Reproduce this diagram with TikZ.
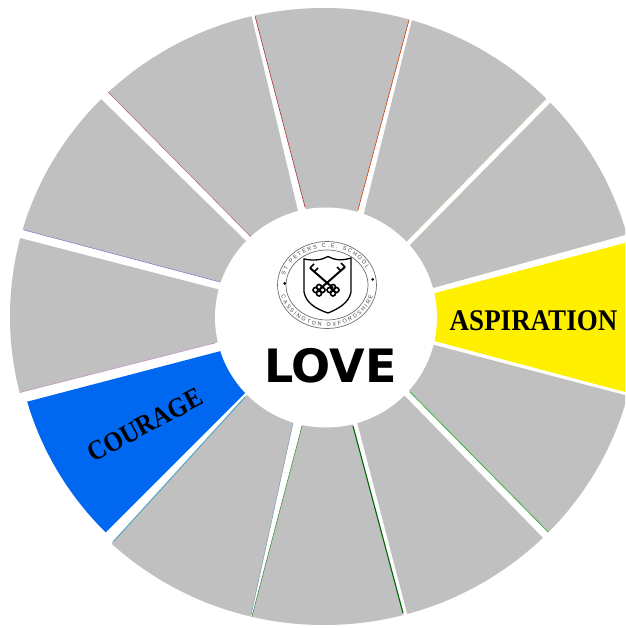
\documentclass[tikz,border=0pt]{standalone}
\usepackage{fontspec}
\setmainfont{Liberation Serif}
\newfontfamily\virtuefont[FakeStretch=0.9]{Liberation Serif}
\newfontfamily\lovefont{DejaVu Sans}
\newfontfamily\sealfont{Liberation Sans}
\usepackage{xcolor}
\usetikzlibrary{calc, decorations.text}
\definecolor{WheelGrey}{HTML}{C0C0C0}
\definecolor{WheelBlue}{HTML}{0068F0}
\definecolor{WheelYellow}{HTML}{FFF000}
\definecolor{SealGrey}{HTML}{707070}
\tikzset{
    % Sectors of the wheel
    sector/.style={fill=WheelGrey, draw=none},
    % Thin coloured line on a sector edge
    edgeline/.style={line width=0.6pt},
    % Word on a coloured sector
    virtue/.style={font=\virtuefont\fontsize{30}{30}\selectfont\bfseries, text=black, inner sep=0pt},
    % Rings of the seal
    sealring/.style={draw=SealGrey, line width=0.7pt},
    % Lettering round the seal
    sealtext/.style={postaction={decorate, decoration={text along path, text align={fit to path}, text={|\sealfont\fontsize{5.5}{5.5}\selectfont\color{SealGrey!60!black}|#1}}}}
}
% #1 fill, then inner and outer end of the first edge, then of the second edge
\newcommand{\wheelsector}[5]{
    \fill [sector, fill=#1] ($(#2)!-0.1!(#3)$) -- ($(#2)!1.3!(#3)$) -- ($(#4)!1.3!(#5)$) -- ($(#4)!-0.1!(#5)$) -- cycle;
}
\begin{document}
\begin{tikzpicture}[x=1pt, y=-1pt]
    \useasboundingbox (0,0) rectangle (625,628);
    \begin{scope}
        \clip (0,0) rectangle (625,628);
        \clip (324,316.5) ellipse [x radius=314, y radius=308.5];
        % Grey sectors, clockwise from the yellow one
        \wheelsector{WheelGrey}{410,245}{551,102}{433,288}{640,231}
        \wheelsector{WheelGrey}{442,347}{640,399}{410,392}{553,537}
        \wheelsector{WheelGrey}{402,393}{545,540}{356,418}{408,617}
        \wheelsector{WheelGrey}{353,426}{403,613}{302,426}{251,620}
        \wheelsector{WheelGrey}{293,423}{251,615}{245,397}{113,542}
        \wheelsector{WheelGrey}{215,343}{18,393}{217,289}{20,238}
        \wheelsector{WheelGrey}{220,282}{24,230}{243,238}{100,98}
        \wheelsector{WheelGrey}{251,237}{108,92}{298,211}{251,14}
        \wheelsector{WheelGrey}{305,207}{255,16}{358,210}{409,20}
        \wheelsector{WheelGrey}{364,213}{412,20}{407,241}{546,99}
        % Yellow sector
        \wheelsector{WheelYellow}{439,292}{640,239}{438,342}{640,396}
        % Edge lines
        \draw [edgeline, color=red!60!black!80] (305,207) -- (255,16);
        \draw [edgeline, color=orange!60!red!80!black] (358,210) -- (409,20);
        \draw [edgeline, color=brown!45, line width=0.4pt] (407,241) -- (546,99);
        \draw [edgeline, color=green!60!black!75, line width=0.8pt] (410,392) -- (553,537);
        \draw [edgeline, color=green!40!black, line width=1.1pt] (353,426) -- (403,613);
        \draw [edgeline, color=green!40!black!80, line width=0.5pt] (302,426) -- (251,620);
        \draw [edgeline, color=cyan!50!black!70, line width=0.5pt] (293,423) -- (251,615);
        \draw [edgeline, color=cyan!70!black!80, line width=1pt] (245,397) -- (113,542);
        \draw [edgeline, color=violet!50, line width=0.4pt] (215,343) -- (18,393);
        \draw [edgeline, color=blue!60!black!60, line width=0.4pt] (220,282) -- (24,230);
        \draw [edgeline, color=purple!80!blue!70, line width=0.4pt] (251,237) -- (108,92);
    \end{scope}
    % Blue sector stops a little short of the others
    \begin{scope}
        \clip (324,316.5) ellipse [x radius=309, y radius=305];
        \wheelsector{WheelBlue}{217,352}{26,402}{243,395}{105,533}
    \end{scope}
    % Centre of the wheel
    \fill [white] (326,317.5) ellipse [x radius=111, y radius=110];
    \node (aspiration) [virtue] at (533.5,321) {ASPIRATION};
    \node (courage) [virtue, font=\virtuefont\fontsize{27.5}{27.5}\selectfont\bfseries, rotate=28] at (145,425) {COURAGE};
    \node (love) [font=\lovefont\fontsize{46}{46}\selectfont\bfseries, inner sep=0pt] at (330.5,366) {LOVE};
    % Seal
    \draw [sealring] (327,285) ellipse [x radius=49.5, y radius=43.5];
    \draw [sealring] (327,285) ellipse [x radius=41, y radius=35];
    \path [sealtext={ST PETERS C.E. SCHOOL}]
        (327,285) ++(195:43.5 and 37.5) arc [start angle=195, end angle=335, x radius=43.5, y radius=37.5];
    \path [sealtext={CASSINGTON OXFORDSHIRE}]
        (327,285) ++(165:47.5 and 41.5) arc [start angle=165, end angle=15, x radius=47.5, y radius=41.5];
    \fill [black] (284.7,283.3) circle [radius=1.5];
    \fill [black] (372.7,279.3) circle [radius=1.5];
    % Shield
    \draw [line width=1.3pt, fill=white] (304,259) .. controls (314,261) and (322,260) .. (328,256.5) .. controls (334,260) and (342,261) .. (351,258) -- (351,292) .. controls (349,303) and (338,309) .. (328,313) .. controls (316,309) and (306,303) .. (304,292) -- cycle;
    % Keys
    \draw [line width=2pt] (310,268) -- (333,288);
    \draw [line width=2pt] (345,267) -- (321,288);
    \draw [line width=1.6pt] (310,268) -- (314,264) (314,272) -- (318,268);
    \draw [line width=1.6pt] (345,267) -- (341,263) (341,271) -- (337,267);
    \foreach \x/\y in {319/287, 319/293.5, 315.5/290, 322.5/290, 333/287, 333/293.5, 329.5/290, 336.5/290} {
        \draw [line width=1.6pt] (\x,\y) circle [radius=2.5];
    }
\end{tikzpicture}
\end{document}
